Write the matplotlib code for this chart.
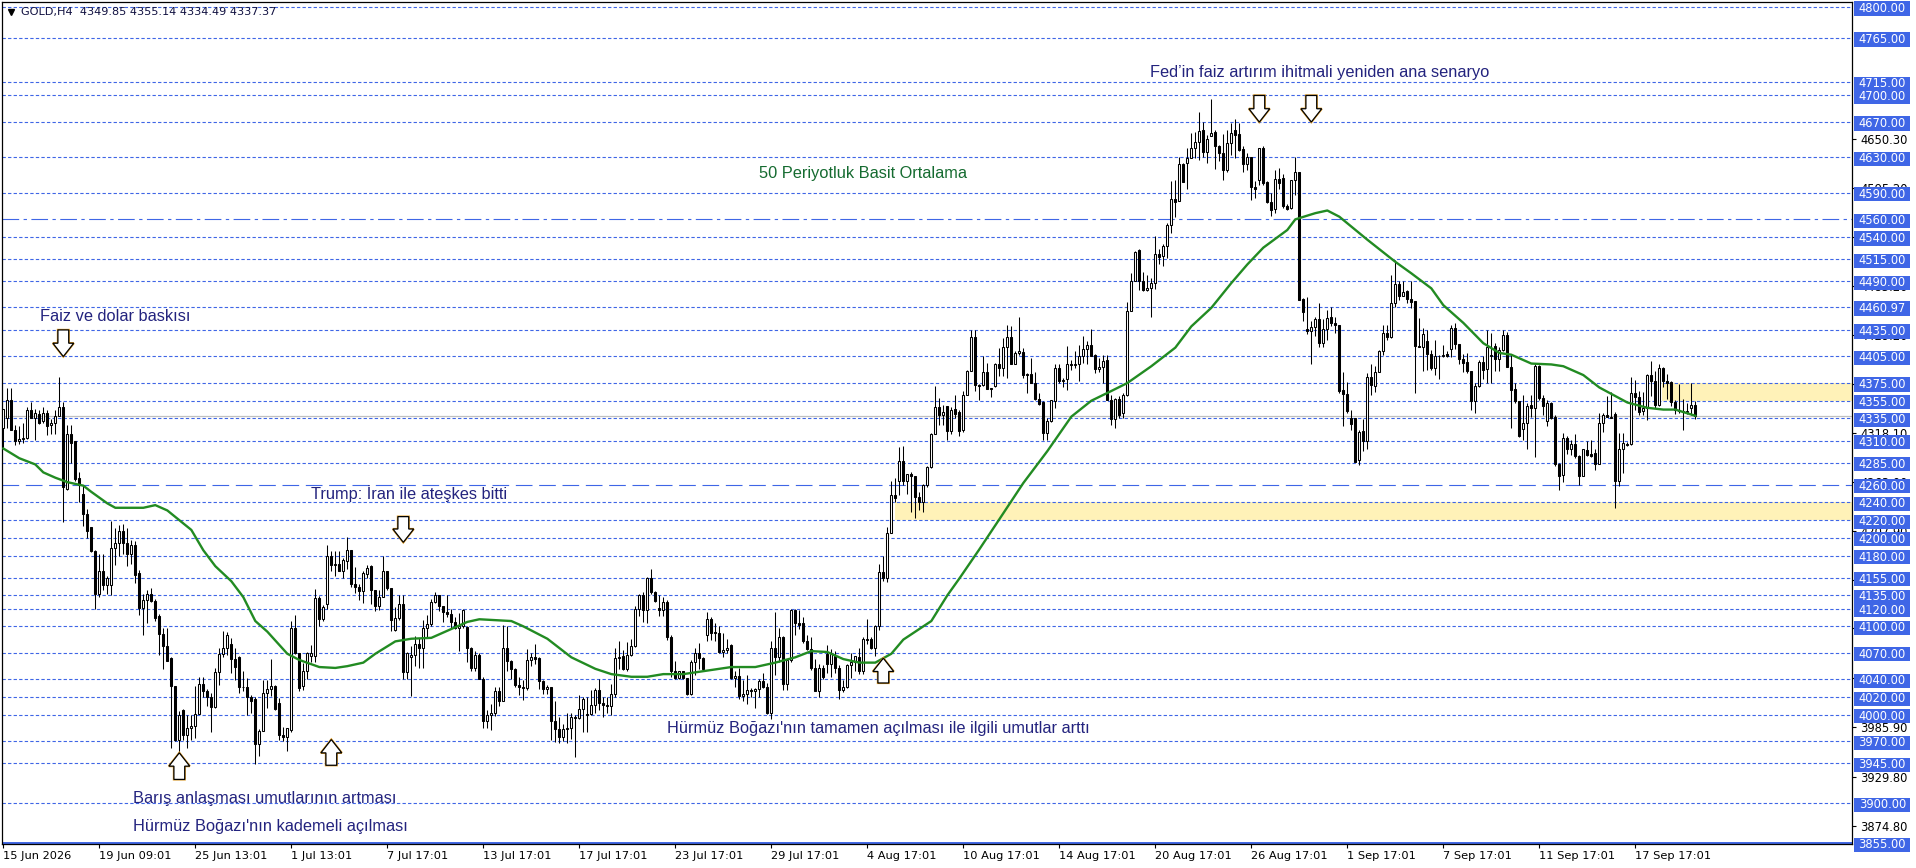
import matplotlib
matplotlib.use('Agg')
import matplotlib.pyplot as plt
from matplotlib.patches import Polygon, Rectangle
from matplotlib.transforms import blended_transform_factory

plt.rcParams['font.family'] = ['DejaVu Sans']

opens = [4324,4336,4356,4322,4310,4312,4313,4344,4336,4340,
    4332,4341,4328,4330,4338,4348,4255,4317,4309,4268,
    4250,4227,4212,4185,4136,4162,4147,4147,4188,4194,
    4208,4194,4182,4192,4160,4121,4130,4137,4129,4112,
    4091,4078,4064,4033,3971,4006,3977,3985,3987,4001,
    4035,4027,4020,4009,4048,4069,4075,4080,4063,4065,
    4032,4032,4020,4018,3967,3982,4025,4029,4033,4013,
    3977,3975,3983,4098,4070,4033,4050,4066,4066,4132,
    4108,4125,4180,4169,4171,4163,4174,4186,4148,4144,
    4140,4159,4168,4141,4123,4133,4162,4143,4096,4109,
    4125,4048,4065,4068,4080,4076,4098,4103,4128,4135,
    4123,4116,4114,4105,4098,4100,4099,4075,4053,4068,
    4041,3993,4000,4002,4027,4016,4075,4061,4052,4034,
    4032,4030,4062,4065,4064,4038,4029,4031,3993,3984,
    3975,3984,3985,3997,3996,4007,4000,4001,4011,4028,
    4013,4011,4010,4023,4064,4066,4052,4068,4078,4120,
    4135,4119,4155,4139,4121,4118,4128,4088,4050,4042,
    4049,4042,4023,4060,4070,4064,4090,4108,4094,4092,
    4071,4073,4079,4042,4044,4021,4024,4028,4027,4029,
    4038,4032,4002,4075,4065,4088,4035,4062,4118,4104,
    4104,4083,4074,4053,4027,4053,4069,4057,4067,4053,
    4028,4031,4056,4060,4065,4049,4086,4086,4076,4100,
    4161,4155,4206,4249,4264,4287,4264,4272,4270,4246,
    4240,4260,4280,4317,4348,4339,4349,4321,4346,4342,
    4322,4362,4389,4427,4373,4373,4388,4368,4372,4396,
    4392,4416,4427,4397,4409,4410,4385,4385,4375,4357,
    4354,4318,4332,4355,4392,4377,4379,4397,4395,4396,
    4405,4413,4418,4407,4391,4393,4401,4356,4334,4357,
    4341,4362,4456,4490,4525,4490,4480,4482,4488,4521,
    4519,4530,4554,4583,4581,4623,4624,4629,4641,4647,
    4661,4636,4654,4659,4643,4635,4616,4646,4661,4656,
    4639,4622,4630,4597,4604,4641,4602,4580,4572,4606,
    4607,4575,4573,4604,4614,4470,4436,4434,4438,4447,
    4420,4436,4450,4443,4441,4367,4363,4335,4335,4288,
    4321,4309,4382,4372,4388,4411,4432,4427,4465,4487,
    4473,4479,4470,4468,4417,4416,4422,4408,4392,4406,
    4405,4408,4413,4437,4419,4402,4399,4389,4355,4372,
    4399,4391,4406,4417,4402,4412,4429,4393,4368,4355,
    4323,4330,4350,4347,4394,4358,4332,4352,4337,4284,
    4271,4313,4300,4306,4293,4270,4299,4295,4296,4284,
    4330,4339,4337,4340,4264,4300,4306,4306,4364,4359,
    4343,4347,4384,4377,4350,4392,4377,4376,4353,4345,
    4343,4342,4347,4349.85]
highs = [4346,4369,4369,4328,4326,4330,4348,4354,4346,4344,
    4348,4344,4334,4344,4382,4354,4328,4328,4309,4274,
    4260,4233,4212,4186,4182,4182,4157,4219,4211,4215,
    4216,4211,4198,4196,4164,4137,4141,4143,4131,4114,
    4098,4098,4065,4033,4004,4007,4000,4000,4033,4043,
    4043,4029,4025,4053,4075,4095,4094,4087,4075,4066,
    4050,4042,4022,4020,3984,4039,4039,4063,4034,4019,
    3986,3985,4106,4113,4070,4059,4071,4079,4142,4134,
    4124,4192,4185,4185,4185,4177,4201,4186,4167,4148,
    4162,4169,4169,4141,4141,4180,4163,4143,4122,4135,
    4135,4071,4078,4089,4087,4107,4113,4131,4139,4135,
    4123,4135,4120,4111,4115,4120,4100,4077,4072,4070,
    4043,4006,4012,4032,4032,4102,4100,4062,4053,4043,
    4039,4074,4070,4080,4065,4039,4034,4031,4016,3997,
    3990,4002,4002,4000,4022,4020,4020,4028,4030,4040,
    4020,4020,4035,4076,4084,4073,4082,4086,4123,4137,
    4139,4156,4165,4140,4135,4133,4130,4090,4061,4050,
    4050,4042,4062,4075,4081,4065,4116,4110,4104,4100,
    4092,4086,4080,4050,4053,4039,4045,4030,4030,4040,
    4047,4036,4084,4116,4098,4089,4063,4120,4120,4118,
    4111,4090,4088,4063,4057,4056,4079,4074,4072,4056,
    4039,4058,4070,4066,4075,4088,4108,4088,4102,4171,
    4180,4212,4264,4268,4303,4304,4272,4274,4270,4252,
    4261,4281,4318,4372,4358,4350,4349,4348,4362,4344,
    4366,4390,4435,4435,4374,4405,4398,4369,4398,4415,
    4426,4441,4440,4411,4450,4415,4386,4403,4388,4364,
    4355,4336,4356,4397,4397,4381,4417,4401,4411,4418,
    4428,4423,4436,4408,4403,4407,4407,4362,4358,4360,
    4364,4467,4499,4524,4527,4501,4497,4494,4541,4526,
    4532,4556,4603,4605,4631,4624,4641,4658,4659,4681,
    4670,4655,4696,4661,4644,4657,4661,4669,4673,4669,
    4643,4635,4631,4603,4641,4643,4603,4590,4616,4618,
    4611,4577,4604,4630,4614,4471,4472,4445,4450,4465,
    4447,4457,4461,4450,4441,4388,4376,4345,4335,4322,
    4334,4386,4397,4394,4412,4441,4441,4497,4514,4490,
    4490,4480,4490,4468,4448,4437,4435,4412,4424,4407,
    4418,4411,4441,4443,4419,4408,4409,4389,4375,4401,
    4405,4435,4431,4420,4416,4435,4433,4407,4375,4355,
    4362,4352,4362,4396,4395,4362,4356,4354,4339,4285,
    4318,4315,4311,4317,4294,4300,4309,4311,4300,4341,
    4341,4360,4365,4342,4319,4319,4308,4382,4378,4366,
    4365,4385,4400,4389,4397,4393,4385,4377,4356,4374,
    4357,4352,4375,4355.14]
lows = [4301,4324,4322,4305,4306,4307,4312,4335,4311,4329,
    4330,4316,4317,4317,4338,4218,4254,4285,4264,4240,
    4213,4200,4184,4120,4133,4141,4137,4135,4169,4180,
    4182,4168,4170,4149,4113,4090,4104,4128,4106,4068,
    4052,4061,3963,3970,3957,3971,3962,3971,3974,4001,
    4020,4010,3981,4008,4034,4065,4068,4047,4039,4025,
    4027,4000,4002,3944,3953,3982,4008,4021,4006,3972,
    3970,3959,3981,4069,4027,4028,4040,4060,4060,4100,
    4106,4120,4162,4157,4162,4155,4165,4144,4138,4130,
    4126,4155,4125,4117,4119,4133,4141,4095,4095,4107,
    4040,4040,4021,4055,4053,4053,4088,4100,4126,4117,
    4105,4110,4098,4097,4072,4098,4060,4050,4050,4040,
    3985,3985,3983,3999,4010,4016,4050,4040,4032,4022,
    4017,4028,4055,4057,4029,4024,4024,3971,3969,3968,
    3970,3968,3973,3952,3995,3981,3981,4000,4002,4005,
    3998,4002,4000,4020,4052,4051,4050,4066,4077,4112,
    4105,4104,4137,4127,4112,4112,4085,4043,4040,4040,
    4040,4022,4022,4045,4052,4050,4083,4085,4083,4070,
    4065,4070,4041,4032,4018,4016,4012,4020,4008,4020,
    4030,4001,3995,4045,4060,4028,4028,4060,4090,4097,
    4081,4073,4051,4027,4020,4041,4047,4043,4047,4018,
    4026,4030,4042,4050,4046,4046,4080,4074,4066,4096,
    4151,4150,4205,4240,4248,4260,4250,4229,4223,4231,
    4229,4258,4279,4317,4328,4328,4311,4317,4336,4315,
    4320,4362,4389,4366,4356,4372,4368,4359,4370,4383,
    4383,4381,4396,4397,4407,4381,4364,4375,4356,4350,
    4311,4311,4331,4347,4375,4371,4367,4390,4392,4377,
    4398,4396,4405,4386,4388,4375,4356,4328,4324,4335,
    4335,4360,4456,4490,4480,4479,4479,4450,4481,4509,
    4507,4516,4545,4563,4581,4602,4594,4629,4629,4627,
    4631,4624,4654,4617,4626,4605,4614,4633,4629,4637,
    4614,4616,4582,4584,4599,4599,4578,4564,4567,4594,
    4573,4571,4572,4588,4469,4445,4430,4396,4428,4416,
    4416,4424,4440,4432,4364,4326,4341,4322,4286,4282,
    4298,4300,4362,4365,4389,4407,4424,4426,4461,4469,
    4473,4465,4460,4364,4416,4389,4390,4390,4384,4380,
    4404,4404,4404,4413,4397,4388,4386,4345,4341,4371,
    4379,4375,4375,4389,4389,4411,4393,4324,4352,4314,
    4311,4300,4337,4291,4356,4339,4326,4334,4281,4254,
    4263,4295,4294,4290,4260,4270,4293,4291,4277,4283,
    4320,4337,4335,4234,4259,4273,4304,4305,4345,4339,
    4339,4333,4360,4347,4349,4371,4357,4349,4340,4341,
    4322,4340,4339,4334.49]
closes = [4346,4356,4322,4309,4312,4313,4344,4336,4341,4330,
    4341,4326,4330,4338,4348,4257,4317,4307,4266,4260,
    4227,4208,4185,4136,4162,4147,4155,4188,4194,4208,
    4194,4182,4192,4158,4121,4130,4137,4129,4109,4091,
    4078,4061,4033,3971,4000,3977,3985,3987,4001,4035,
    4027,4020,4009,4048,4069,4075,4090,4063,4054,4032,
    4031,4020,4016,3967,3982,4025,4029,4033,4007,3977,
    3975,3985,4098,4070,4030,4050,4070,4070,4132,4108,
    4122,4180,4169,4171,4163,4175,4186,4148,4144,4140,
    4160,4166,4141,4123,4133,4162,4143,4107,4109,4125,
    4048,4070,4068,4080,4076,4098,4103,4128,4135,4123,
    4116,4114,4105,4098,4100,4119,4075,4053,4068,4040,
    3993,4000,4002,4027,4016,4075,4061,4052,4034,4032,
    4030,4062,4065,4063,4038,4029,4031,3993,3984,3975,
    3984,3985,3997,3996,4007,4018,4001,4011,4028,4013,
    4011,4010,4023,4064,4065,4052,4068,4078,4120,4135,
    4119,4155,4139,4129,4118,4128,4088,4050,4042,4049,
    4042,4023,4060,4070,4064,4052,4108,4092,4092,4071,
    4073,4075,4042,4044,4021,4024,4028,4027,4029,4038,
    4032,4002,4075,4065,4088,4035,4062,4118,4104,4102,
    4083,4074,4053,4027,4053,4043,4057,4069,4053,4028,
    4031,4056,4060,4066,4049,4086,4085,4076,4100,4161,
    4155,4206,4249,4245,4287,4264,4272,4270,4246,4240,
    4260,4280,4317,4348,4339,4342,4321,4345,4340,4321,
    4362,4389,4427,4373,4372,4388,4368,4369,4396,4392,
    4416,4427,4397,4409,4411,4384,4384,4375,4357,4351,
    4318,4332,4356,4392,4377,4378,4397,4395,4396,4405,
    4413,4418,4406,4391,4393,4400,4356,4334,4357,4339,
    4362,4456,4490,4523,4490,4480,4482,4488,4521,4518,
    4530,4554,4583,4580,4623,4602,4629,4641,4647,4660,
    4636,4651,4658,4643,4635,4616,4646,4658,4655,4638,
    4622,4630,4597,4594,4641,4601,4580,4571,4606,4601,
    4575,4572,4604,4614,4469,4455,4434,4438,4447,4420,
    4436,4449,4443,4441,4366,4363,4343,4329,4286,4320,
    4309,4382,4373,4388,4411,4432,4427,4465,4487,4473,
    4478,4470,4467,4417,4416,4430,4408,4392,4406,4405,
    4407,4405,4437,4419,4402,4398,4389,4355,4372,4399,
    4390,4416,4407,4402,4412,4429,4393,4367,4355,4315,
    4330,4349,4347,4394,4358,4349,4352,4335,4284,4270,
    4313,4300,4306,4292,4270,4300,4294,4293,4284,4330,
    4339,4337,4336,4264,4300,4307,4305,4364,4359,4342,
    4347,4384,4377,4350,4392,4377,4375,4354,4345,4343,
    4342,4343,4350,4337.37]

# 50 bar average
ma_bars = [0,4,8,10,13,16,20,22,26,28,35,38,41,47,50,53,57,60,63,66,71,74,79,83,86,90,93,98,102,107,111,116,
    119,127,130,136,142,148,152,157,161,165,170,176,182,188,193,198,202,206,210,214,218,222,225,229,232,236,239,
    244,249,255,261,267,272,277,281,287,293,297,302,307,311,315,321,323,328,331,334,
    341,348,352,357,360,365,370,374,377,382,387,390,395,399,406,411,415,418,423]
ma_vals = [4301,4290,4283,4274,4268,4263,4259,4252,4239,4234,4234,4237,4231,4209,4186,4168,4151,4133,4106,4094,4069,4062,4054,4053,4055,4059,4069,4083,4086,4087,4095,4105,
    4108,4106,4100,4086,4065,4052,4046,4043,4043,4046,4046,4050,4054,4054,4059,4065,4072,4071,4063,4059,4059,4069,4085,4097,4106,4135,4154,
    4187,4221,4262,4298,4337,4355,4366,4375,4394,4415,4439,4460,4488,4509,4528,4548,4560,4567,4570,4563,
    4537,4512,4499,4482,4463,4443,4420,4409,4407,4397,4396,4394,4384,4370,4353,4347,4345,4345,4338]

levels = [4800,4765,4715,4700,4670,4630,4590,4540,4515,4490,4460.97,4435,4405,4375,4355,4335,4310,4285,
    4240,4220,4200,4180,4155,4135,4120,4100,4070,4040,4020,4000,3970,3945,3900]
long_dash_level = 4260
dash_dot_level = 4560
bottom_level = 3855
bid = 4337.37

axis_ticks = [4650.30,4595.20,4540.10,4485.20,4429.20,4374.10,4318.10,4263.00,4207.90,4152.80,4097.70,4041.80,3985.90,3929.80,3874.80]

date_ticks = ['15 Jun 2026','19 Jun 09:01','25 Jun 13:01','1 Jul 13:01','7 Jul 17:01','13 Jul 17:01',
    '17 Jul 17:01','23 Jul 17:01','29 Jul 17:01','4 Aug 17:01','10 Aug 17:01','14 Aug 17:01',
    '20 Aug 17:01','26 Aug 17:01','1 Sep 17:01','7 Sep 17:01','11 Sep 17:01','17 Sep 17:01']

blue = '#3F66E6'
navy = '#23237E'

fig = plt.figure(figsize=(19.16, 8.68), dpi=100)
ax = fig.add_axes([2/1916, 24/868, 1850/1916, 842/868])
ax.set_xlim(-0.33, 462.17)
ax.set_ylim(3854, 4805.65)

def line_px(price, dashes, zo=1):
    ax.axhline(price, color=blue, lw=0.8, dashes=dashes, zorder=zo)

for lv in levels:
    line_px(lv, (3, 2))
line_px(long_dash_level, (15, 6))
line_px(dash_dot_level, (15, 4, 3, 4))
ax.axhline(bottom_level, color=blue, lw=1.4, zorder=1)
ax.axhline(bid, color='#C0C0C0', lw=0.9, zorder=1)

# supply / demand zones
ax.add_patch(Rectangle((223, 4220), 300, 20, fc='#FFF2B8', ec='none', zorder=0.5))
ax.add_patch(Rectangle((414.7, 4355), 100, 20, fc='#FFF2B8', ec='none', zorder=0.5))

bars = list(range(len(opens)))
ax.vlines(bars, lows, highs, color='black', lw=0.75, zorder=3, snap=True)
for b, o, c in zip(bars, opens, closes):
    fc = 'white' if c >= o else 'black'
    ax.bar(b, abs(c - o), bottom=min(o, c), width=0.55, facecolor=fc, edgecolor='black', lw=0.75, zorder=3.2)

ax.plot(ma_bars, ma_vals, color='#228B22', lw=1.7, zorder=4)

# hollow arrows
def arrow(bar, tip, tail):
    head = 15 if tail > tip else -15
    pts = [(bar, tip), (bar - 2.6, tip + head), (bar - 1.35, tip + head), (bar - 1.35, tail),
           (bar + 1.35, tail), (bar + 1.35, tip + head), (bar + 2.6, tip + head)]
    ax.add_patch(Polygon(pts, closed=True, fc='none', ec='#E09A20', lw=1.6, zorder=5))
    ax.add_patch(Polygon(pts, closed=True, fc='white', ec='black', lw=0.9, zorder=5.1))

arrow(15, 4405, 4435)
arrow(100, 4195, 4224)
arrow(314, 4670, 4700)
arrow(327, 4670, 4700)
arrow(44, 3957, 3927)
arrow(82, 3972, 3943)
arrow(220, 4064, 4036)

notes_font = ['Liberation Sans']
note_size = 11.8
ax.text(9.2, 4450.5, 'Faiz ve dolar baskısı', color=navy, fontsize=note_size, family=notes_font, va='center', zorder=6)
ax.text(286.7, 4726, 'Fed’in faiz artırım ihitmali yeniden ana senaryo', color=navy, fontsize=note_size, family=notes_font, va='center', zorder=6)
ax.text(189, 4612, '50 Periyotluk Basit Ortalama', color='#156B30', fontsize=note_size, family=notes_font, va='center', zorder=6)
ax.text(77, 4250, 'Trump: İran ile ateşkes bitti', color=navy, fontsize=note_size, family=notes_font, va='center', zorder=6)
ax.text(166, 3985, "Hürmüz Boğazı'nın tamamen açılması ile ilgili umutlar arttı", color=navy, fontsize=note_size, family=notes_font, va='center', zorder=6)
ax.text(32.5, 3905, 'Barış anlaşması umutlarının artması', color=navy, fontsize=note_size, family=notes_font, va='center', zorder=6)
ax.text(32.5, 3874, "Hürmüz Boğazı'nın kademeli açılması", color=navy, fontsize=note_size, family=notes_font, va='center', zorder=6)

ax.text(4.4, 4794.5, 'GOLD,H4  4349.85 4355.14 4334.49 4337.37', color='#101040', fontsize=8.1, va='center', zorder=6)
ax.plot([1.9], [4794.5], marker='v', color='black', ms=5, zorder=6)

# right axis: plain ticks under the blue level labels
ax.yaxis.tick_right()
ax.set_yticks(axis_ticks)
ax.set_yticklabels(['%.2f' % t for t in axis_ticks], fontsize=8.3)
ax.tick_params(axis='y', length=3, width=0.8, pad=3)

ax.set_xticks(bars[::24])
ax.set_xticklabels(date_ticks, fontsize=8.2, ha='left')
ax.tick_params(axis='x', length=3, width=0.8, pad=2)

trans = blended_transform_factory(ax.transAxes, ax.transData)
for lv in levels + [long_dash_level, dash_dot_level, bottom_level]:
    ax.add_patch(Rectangle((1.0012, lv - 9.7), 56/1850, 16, transform=trans, fc=blue, ec='none', clip_on=False, zorder=7))
    ax.text(1.0012 + 28/1850, lv - 1.7, '%.2f' % lv, transform=trans, color='white', fontsize=8.3,
            ha='center', va='center', clip_on=False, zorder=8)

for s in ax.spines.values():
    s.set_linewidth(0.9)

fig.savefig('out.png', dpi=100)
